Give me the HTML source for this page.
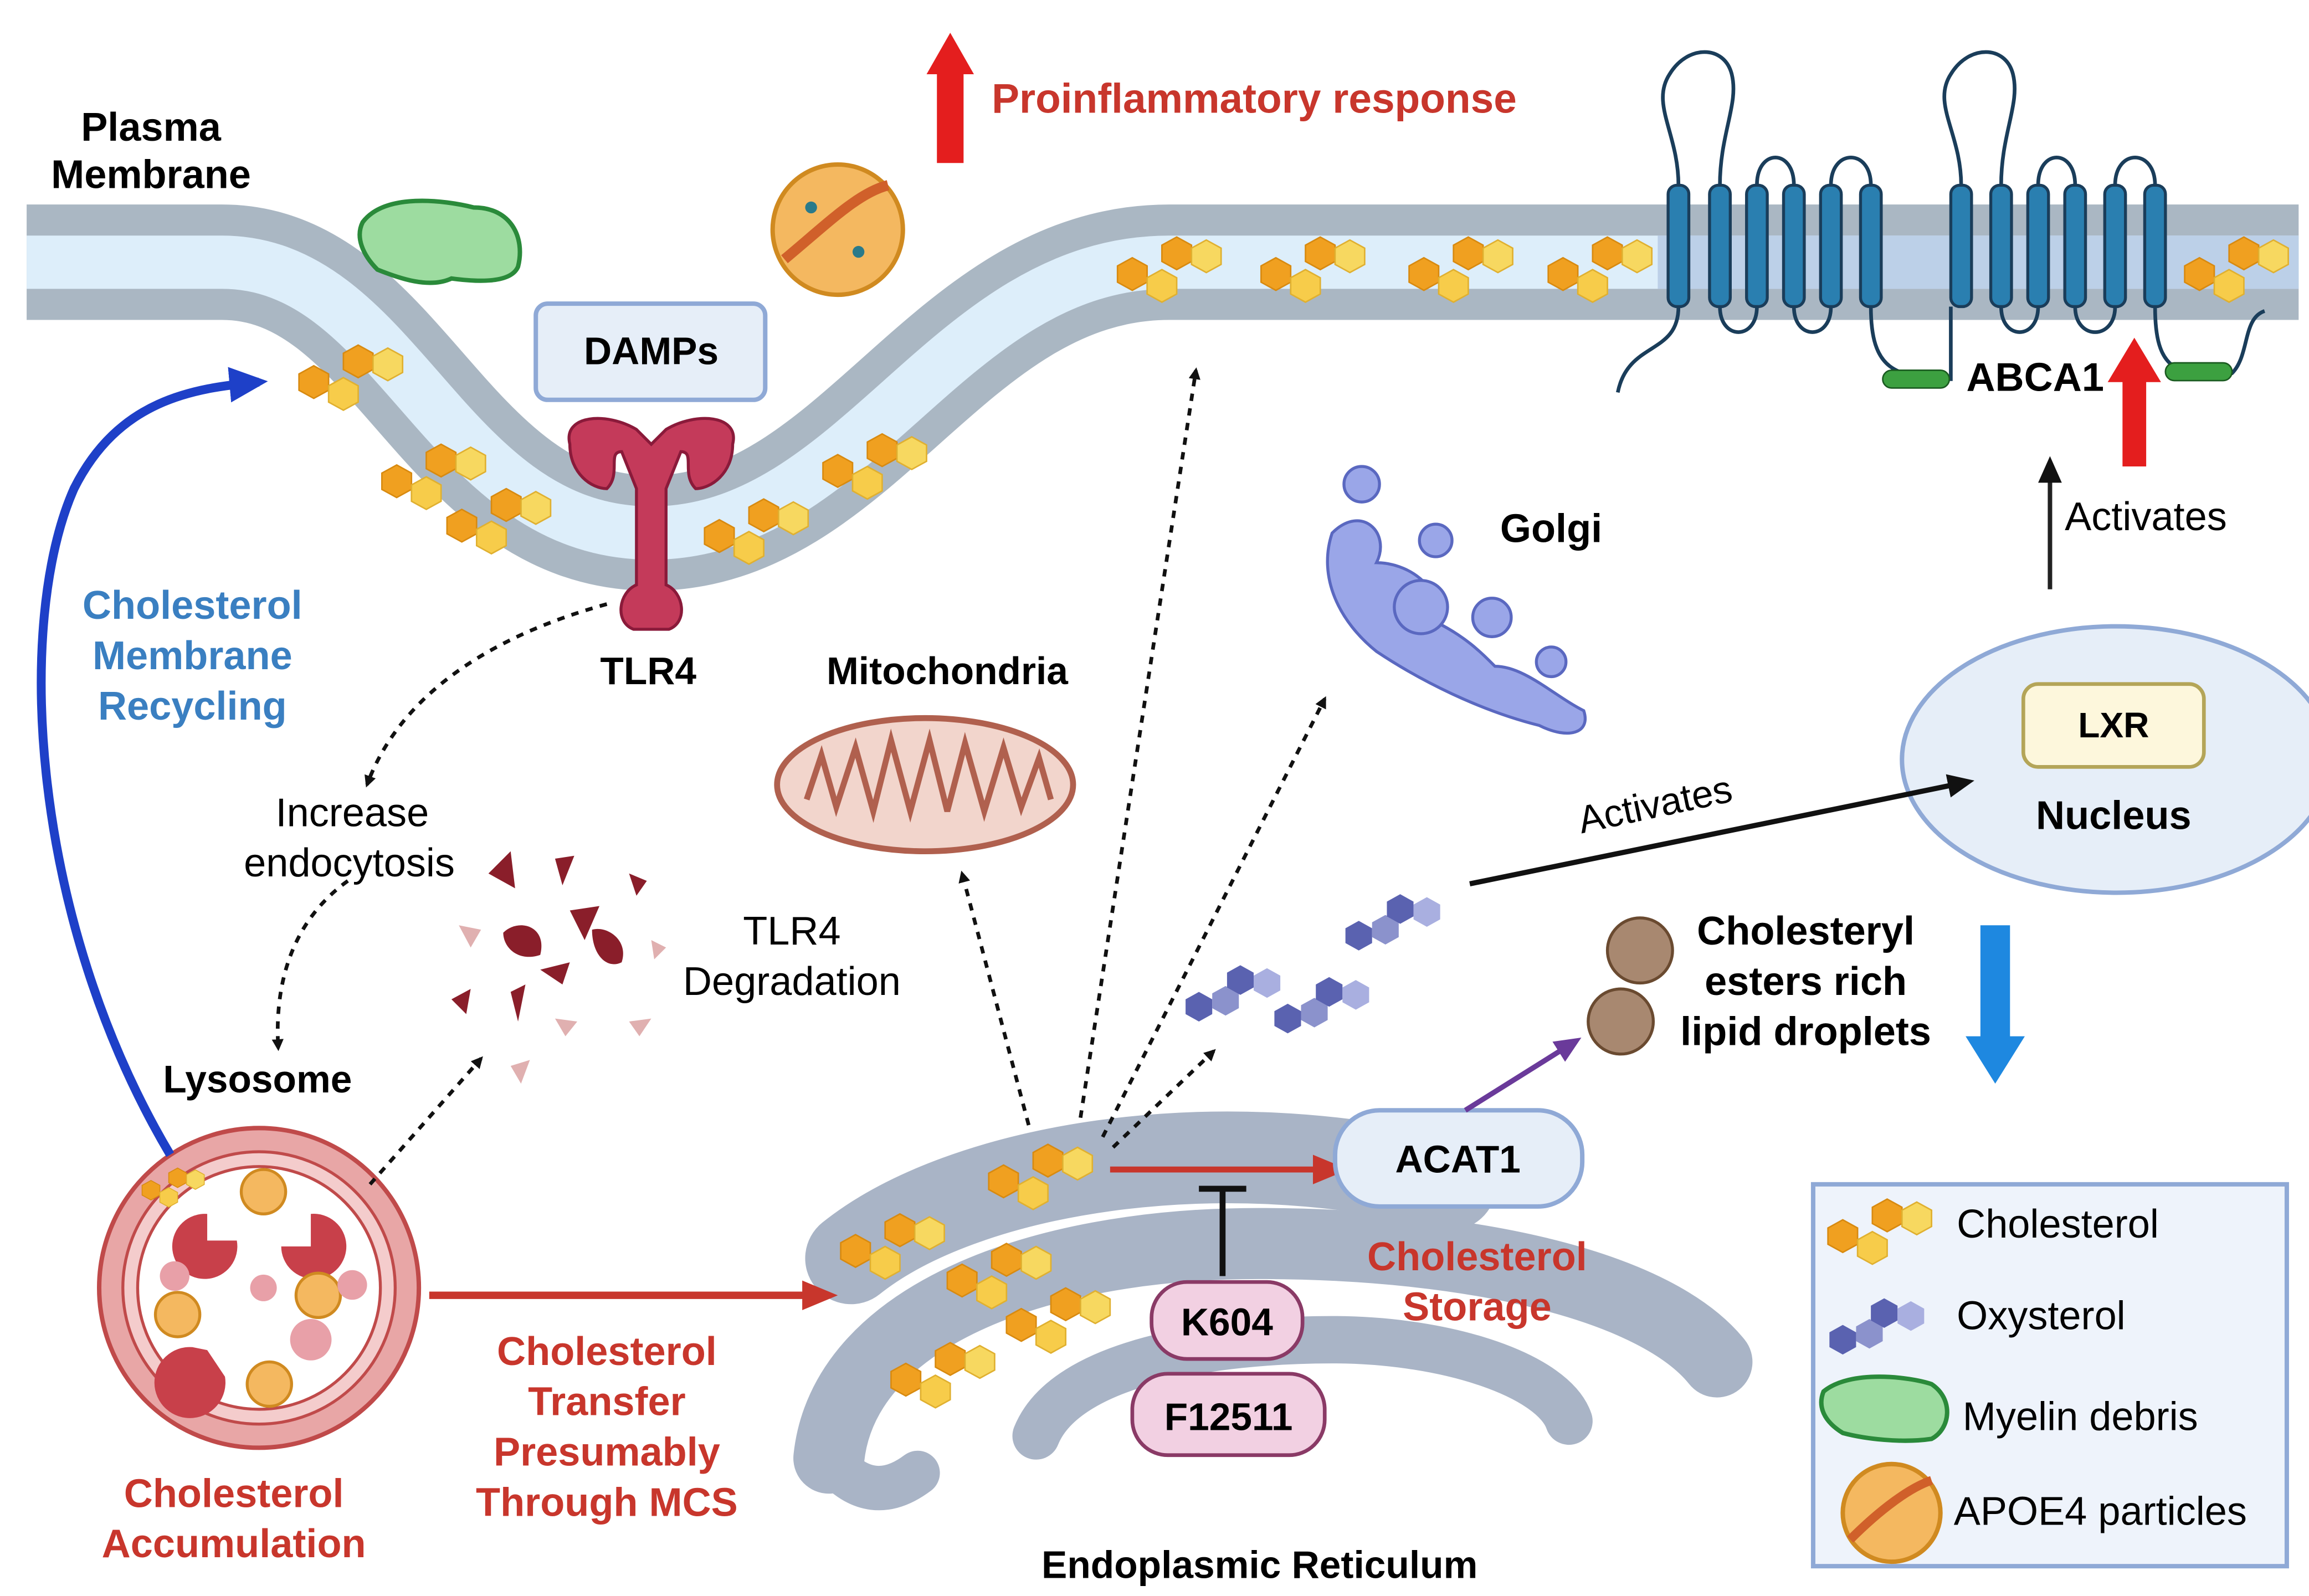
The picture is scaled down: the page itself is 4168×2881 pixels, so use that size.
<!DOCTYPE html>
<html><head><meta charset="utf-8"><style>
html,body{margin:0;padding:0;background:#fff}
svg{display:block}
text{font-family:"Liberation Sans",Arial,sans-serif}
.b{font-weight:bold}
</style></head><body>
<svg width="4168" height="2881" viewBox="0 0 1560 1078" xmlns="http://www.w3.org/2000/svg">
<defs>
<g id="ch">
<polygon points="0,-11 10,-5.5 10,5.5 0,11 -10,5.5 -10,-5.5" fill="#f0a020" stroke="#d88a10" stroke-width="1"/>
<polygon points="20,-11 30,-5.5 30,5.5 20,11 10,5.5 10,-5.5" fill="#f7cc4a" stroke="#e0b030" stroke-width="1" transform="translate(0,8)"/>
<polygon points="20,-11 30,-5.5 30,5.5 20,11 10,5.5 10,-5.5" fill="#f0a020" stroke="#d88a10" stroke-width="1" transform="translate(10,-14)"/>
<polygon points="20,-11 30,-5.5 30,5.5 20,11 10,5.5 10,-5.5" fill="#f7d860" stroke="#e0b030" stroke-width="1" transform="translate(30,-12)"/>
</g>
<g id="ox">
<polygon points="0,-10 9,-5 9,5 0,10 -9,5 -9,-5" fill="#5a62b0"/>
<polygon points="0,-10 9,-5 9,5 0,10 -9,5 -9,-5" fill="#8b92cc" transform="translate(18,-4)"/>
<polygon points="0,-10 9,-5 9,5 0,10 -9,5 -9,-5" fill="#5a62b0" transform="translate(28,-18)"/>
<polygon points="0,-10 9,-5 9,5 0,10 -9,5 -9,-5" fill="#a9afe0" transform="translate(46,-16)"/>
</g>
<marker id="ak" markerWidth="8" markerHeight="8" refX="6" refY="4" orient="auto" markerUnits="userSpaceOnUse" viewBox="0 0 8 8"><path d="M0,0 L8,4 L0,8z" fill="#111"/></marker>
<marker id="akb" markerWidth="20" markerHeight="20" refX="14" refY="10" orient="auto" markerUnits="userSpaceOnUse"><path d="M0,2 L18,10 L0,18z" fill="#111"/></marker>
<marker id="ar" markerWidth="24" markerHeight="24" refX="18" refY="12" orient="auto" markerUnits="userSpaceOnUse"><path d="M0,2 L24,12 L0,22z" fill="#c8362c"/></marker>
<marker id="ab" markerWidth="28" markerHeight="28" refX="20" refY="14" orient="auto" markerUnits="userSpaceOnUse"><path d="M0,2 L26,14 L0,26z" fill="#1e40c8"/></marker>
<marker id="ap" markerWidth="20" markerHeight="20" refX="14" refY="10" orient="auto" markerUnits="userSpaceOnUse"><path d="M0,2 L18,10 L0,18z" fill="#6a3a9a"/></marker>
</defs>
<rect width="1560" height="1078" fill="#fff"/>

<path d="M18,177 L150,177 C270,177 300,360 440,360 C580,360 640,177 790,177 L1553,177" fill="none" stroke="#aab7c3" stroke-width="78"/>
<path d="M18,177 L150,177 C270,177 300,360 440,360 C580,360 640,177 790,177 L1553,177" fill="none" stroke="#ddeefa" stroke-width="36"/>
<rect x="1120" y="159" width="433" height="36" fill="#bcd0e8"/>
<use href="#ch" x="212" y="258"/><use href="#ch" x="268" y="325"/><use href="#ch" x="312" y="355"/>
<use href="#ch" x="486" y="362"/><use href="#ch" x="566" y="318"/><use href="#ch" x="765" y="185"/>
<use href="#ch" x="862" y="185"/><use href="#ch" x="962" y="185"/><use href="#ch" x="1056" y="185"/><use href="#ch" x="1486" y="185"/>

<g fill="#2a7fb0" stroke="#1a3d5a" stroke-width="2">
<rect x="1127" y="125" width="14" height="82" rx="6"/><rect x="1155" y="125" width="14" height="82" rx="6"/>
<rect x="1180" y="125" width="14" height="82" rx="6"/><rect x="1205" y="125" width="14" height="82" rx="6"/>
<rect x="1230" y="125" width="14" height="82" rx="6"/><rect x="1257" y="125" width="14" height="82" rx="6"/>
<rect x="1318" y="125" width="14" height="82" rx="6"/><rect x="1345" y="125" width="14" height="82" rx="6"/>
<rect x="1370" y="125" width="14" height="82" rx="6"/><rect x="1395" y="125" width="14" height="82" rx="6"/>
<rect x="1422" y="125" width="14" height="82" rx="6"/><rect x="1449" y="125" width="14" height="82" rx="6"/>
</g>
<g fill="none" stroke="#1a3d5a" stroke-width="2.5">
<path d="M1134,125 C1134,90 1115,70 1128,50 C1140,30 1165,30 1170,50 C1175,70 1162,90 1162,125"/>
<path d="M1187,125 C1187,100 1212,100 1212,125 M1237,125 C1237,100 1264,100 1264,125"/>
<path d="M1325,125 C1325,90 1305,70 1318,50 C1330,30 1355,30 1360,50 C1365,70 1352,90 1352,125"/>
<path d="M1377,125 C1377,100 1402,100 1402,125 M1429,125 C1429,100 1456,100 1456,125"/>
<path d="M1134,207 C1134,240 1100,230 1093,265 M1162,207 C1162,230 1187,230 1187,207 M1212,207 C1212,230 1237,230 1237,207 M1264,207 C1264,250 1280,255 1318,256 L1318,207"/>
<path d="M1352,207 C1352,230 1377,230 1377,207 M1402,207 C1402,230 1429,230 1429,207 M1456,207 C1456,250 1470,255 1508,252 C1520,240 1515,215 1530,210"/>
</g>
<rect x="1272" y="250" width="45" height="12" rx="6" fill="#3ca040" stroke="#1a5a20"/>
<rect x="1463" y="245" width="45" height="12" rx="6" fill="#3ca040" stroke="#1a5a20"/>
<text x="1375" y="264" class="b" font-size="27" text-anchor="middle">ABCA1</text>
<path d="M1434,315 L1434,258 L1424,258 L1442,228 L1460,258 L1450,258 L1450,315z" fill="#e41e1e"/>
<line x1="1385" y1="398" x2="1385" y2="312" stroke="#222" stroke-width="3" marker-end="url(#akb)"/>
<text x="1395" y="358" font-size="27">Activates</text>

<path d="M633,110 L633,50 L626,50 L642,22 L658,50 L651,50 L651,110z" fill="#e41e1e"/>
<text x="670" y="76" class="b" font-size="28" fill="#c8362c">Proinflammatory response</text>
<text x="102" y="95" class="b" font-size="27" text-anchor="middle">Plasma</text>
<text x="102" y="127" class="b" font-size="27" text-anchor="middle">Membrane</text>

<path d="M245,150 C260,130 300,135 320,140 C345,140 355,160 350,180 C345,192 320,190 305,188 C290,195 270,188 255,182 C245,172 240,160 245,150z" fill="#9ddca0" stroke="#2a8a3a" stroke-width="3"/>
<circle cx="566" cy="155" r="44" fill="#f4b860" stroke="#d08a20" stroke-width="3"/>
<path d="M530,175 C560,150 580,130 600,125" stroke="#d0602a" stroke-width="7" fill="none"/>
<circle cx="548" cy="140" r="4" fill="#2a7a8a"/><circle cx="580" cy="170" r="4" fill="#2a7a8a"/>

<rect x="362" y="205" width="155" height="65" rx="8" fill="#e6eef8" stroke="#8fa9d6" stroke-width="3"/>
<text x="440" y="246" class="b" font-size="26" text-anchor="middle">DAMPs</text>
<path d="M385,300 C380,280 410,278 430,290 L440,300 L450,290 C470,278 500,280 495,300 C495,320 480,330 470,330 C460,320 470,305 460,305 L450,330 L450,395 C462,400 465,420 452,425 L428,425 C415,420 418,400 430,395 L430,330 L420,305 C410,305 420,320 410,330 C400,330 385,320 385,300z" fill="#c43a5a" stroke="#8a1a3a" stroke-width="2"/>
<text x="438" y="462" class="b" font-size="26" text-anchor="middle">TLR4</text>

<text x="640" y="462" class="b" font-size="26" text-anchor="middle">Mitochondria</text>
<ellipse cx="625" cy="530" rx="100" ry="45" fill="#f2d5cc" stroke="#b0604e" stroke-width="4"/>
<path d="M545,540 L555,510 L565,545 L578,505 L590,548 L602,500 L615,548 L628,500 L640,548 L652,502 L665,548 L678,505 L690,545 L702,512 L710,540" fill="none" stroke="#b0604e" stroke-width="4"/>

<text x="1048" y="366" class="b" font-size="27" text-anchor="middle">Golgi</text>
<g fill="#9aa6e8" stroke="#5a68c0" stroke-width="2">
<circle cx="920" cy="327" r="12"/><circle cx="970" cy="365" r="11"/>
<path d="M900,360 C920,340 940,360 930,380 C950,380 975,395 970,420 C990,430 1000,440 1010,450 C1030,450 1050,470 1070,480 C1075,495 1060,500 1040,490 C1000,480 960,460 930,440 C905,420 890,390 900,360z"/>
<circle cx="1008" cy="417" r="13"/><circle cx="1048" cy="447" r="10"/><circle cx="960" cy="410" r="18"/>
</g>

<ellipse cx="1430" cy="513" rx="145" ry="90" fill="#e6eef8" stroke="#8fa9d6" stroke-width="3"/>
<rect x="1367" y="462" width="122" height="56" rx="10" fill="#fdf7dc" stroke="#b4a558" stroke-width="2.5"/>
<text x="1428" y="498" class="b" font-size="24" text-anchor="middle">LXR</text>
<text x="1428" y="560" class="b" font-size="27" text-anchor="middle">Nucleus</text>
<line x1="993" y1="597" x2="1330" y2="528" stroke="#111" stroke-width="3.5" marker-end="url(#akb)"/>
<text x="1120" y="552" font-size="26" text-anchor="middle" transform="rotate(-12 1120 552)">Activates</text>
<path d="M1338,625 L1358,625 L1358,700 L1368,700 L1348,732 L1328,700 L1338,700z" fill="#1e88e0"/>

<circle cx="1108" cy="642" r="22" fill="#a88870" stroke="#6a4a30" stroke-width="2"/>
<circle cx="1095" cy="690" r="22" fill="#a88870" stroke="#6a4a30" stroke-width="2"/>
<text x="1220" y="638" class="b" font-size="27" text-anchor="middle">Cholesteryl</text>
<text x="1220" y="672" class="b" font-size="27" text-anchor="middle">esters rich</text>
<text x="1220" y="706" class="b" font-size="27" text-anchor="middle">lipid droplets</text>

<use href="#ox" x="810" y="680"/><use href="#ox" x="870" y="688"/><use href="#ox" x="918" y="632"/>

<g fill="none" stroke="#a9b4c6" stroke-linecap="round">
<path d="M575,850 C650,790 820,760 980,800" stroke-width="62"/>
<path d="M560,985 C570,890 700,840 850,840 C1000,840 1120,870 1160,920" stroke-width="48"/>
<path d="M700,970 C720,920 820,905 900,905 C980,905 1050,930 1060,960" stroke-width="32"/>
<path d="M560,985 C580,1010 600,1010 620,995" stroke-width="30"/>
</g>
<use href="#ch" x="578" y="845"/><use href="#ch" x="650" y="865"/><use href="#ch" x="612" y="932"/><use href="#ch" x="690" y="895"/><use href="#ch" x="678" y="798"/>
<text x="851" y="1066" class="b" font-size="26" text-anchor="middle">Endoplasmic Reticulum</text>

<line x1="750" y1="790" x2="905" y2="790" stroke="#c8362c" stroke-width="4" marker-end="url(#ar)"/>
<rect x="902" y="750" width="167" height="65" rx="30" fill="#e6eef8" stroke="#8fa9d6" stroke-width="3"/>
<text x="985" y="792" class="b" font-size="26" text-anchor="middle">ACAT1</text>
<line x1="990" y1="750" x2="1065" y2="703" stroke="#6a3a9a" stroke-width="3.5" marker-end="url(#ap)"/>
<line x1="826" y1="862" x2="826" y2="803" stroke="#111" stroke-width="4"/>
<line x1="810" y1="803" x2="842" y2="803" stroke="#111" stroke-width="4"/>
<rect x="778" y="866" width="102" height="52" rx="24" fill="#f2d0e2" stroke="#8a3a66" stroke-width="2.5"/>
<text x="829" y="902" class="b" font-size="26" text-anchor="middle">K604</text>
<rect x="765" y="928" width="130" height="55" rx="24" fill="#f2d0e2" stroke="#8a3a66" stroke-width="2.5"/>
<text x="830" y="966" class="b" font-size="26" text-anchor="middle">F12511</text>
<text x="998" y="858" class="b" font-size="27" text-anchor="middle" fill="#c8362c">Cholesterol</text>
<text x="998" y="892" class="b" font-size="27" text-anchor="middle" fill="#c8362c">Storage</text>

<circle cx="175" cy="870" r="108" fill="#e8a6a6" stroke="#c04a4a" stroke-width="3"/>
<circle cx="175" cy="870" r="92" fill="#f4cccc" stroke="#c04a4a" stroke-width="2"/>
<circle cx="175" cy="870" r="82" fill="#fff" stroke="#c04a4a" stroke-width="2"/>
<g fill="#c8404a">
<path d="M140,820 A22,22 0 1 0 160,838 L140,838z"/><path d="M210,820 A22,22 0 1 1 190,842 L210,842z"/>
<path d="M130,910 A24,24 0 1 0 152,930 L140,912z"/>
</g>
<g fill="#f4b860" stroke="#d08a20" stroke-width="2"><circle cx="178" cy="805" r="15"/><circle cx="215" cy="875" r="15"/><circle cx="120" cy="888" r="15"/><circle cx="182" cy="935" r="15"/></g>
<g fill="#e8a0a8"><circle cx="118" cy="862" r="10"/><circle cx="178" cy="870" r="9"/><circle cx="238" cy="868" r="10"/><circle cx="210" cy="905" r="14"/></g>
<use href="#ch" x="100" y="800" transform="scale(0.6) translate(70,540)"/>
<text x="174" y="738" class="b" font-size="26" text-anchor="middle">Lysosome</text>
<text x="158" y="1018" class="b" font-size="27" text-anchor="middle" fill="#c8362c">Cholesterol</text>
<text x="158" y="1052" class="b" font-size="27" text-anchor="middle" fill="#c8362c">Accumulation</text>

<path d="M115,780 C20,620 10,420 50,330 C80,270 130,262 175,258" fill="none" stroke="#1e40c8" stroke-width="6" marker-end="url(#ab)"/>
<text x="130" y="418" class="b" font-size="27" text-anchor="middle" fill="#3a7fc1">Cholesterol</text>
<text x="130" y="452" class="b" font-size="27" text-anchor="middle" fill="#3a7fc1">Membrane</text>
<text x="130" y="486" class="b" font-size="27" text-anchor="middle" fill="#3a7fc1">Recycling</text>

<line x1="290" y1="875" x2="560" y2="875" stroke="#c8362c" stroke-width="5" marker-end="url(#ar)"/>
<g class="b" font-size="27" text-anchor="middle" fill="#c8362c">
<text x="410" y="922">Cholesterol</text><text x="410" y="956">Transfer</text><text x="410" y="990">Presumably</text><text x="410" y="1024">Through MCS</text></g>

<g fill="none" stroke="#111" stroke-width="2.5" stroke-dasharray="5,5" marker-end="url(#ak)">
<path d="M410,408 C330,430 270,470 248,530"/>
<path d="M235,595 C200,620 185,660 188,708"/>
<path d="M250,800 L325,715"/>
<path d="M695,760 L650,590"/>
<path d="M730,755 L808,250"/>
<path d="M745,768 L895,472"/>
<path d="M752,775 L820,710"/>
</g>
<text x="238" y="558" font-size="27" text-anchor="middle">Increase</text>
<text x="236" y="592" font-size="27" text-anchor="middle">endocytosis</text>
<text x="535" y="638" font-size="27" text-anchor="middle">TLR4</text>
<text x="535" y="672" font-size="27" text-anchor="middle">Degradation</text>

<g fill="#8a1e2a">
<path d="M330,590 L345,575 L348,600z"/><path d="M375,580 L388,578 L380,598z"/><path d="M340,630 C350,620 370,625 365,645 C350,650 340,640 340,630z"/>
<path d="M385,615 L405,612 L395,635z"/><path d="M400,628 C410,625 425,635 420,650 C410,655 400,645 400,628z"/><path d="M365,655 L385,650 L380,665z"/>
<path d="M305,675 L318,668 L315,685z"/><path d="M345,670 L355,665 L350,690z"/><path d="M425,590 L437,595 L430,605z"/>
</g>
<g fill="#e0b0b0"><path d="M310,625 L325,628 L318,640z"/><path d="M425,690 L440,688 L432,700z"/><path d="M345,720 L358,716 L352,732z"/><path d="M375,688 L390,690 L382,700z"/><path d="M440,635 L450,640 L442,648z"/></g>

<rect x="1225" y="800" width="320" height="258" fill="#eef3fb" stroke="#8fa9d6" stroke-width="3"/>
<use href="#ch" x="1245" y="835"/>
<use href="#ox" x="1245" y="905"/>
<path d="M1232,940 C1250,925 1290,930 1305,935 C1320,945 1318,965 1305,972 C1285,975 1260,972 1245,968 C1232,960 1228,950 1232,940z" fill="#9ddca0" stroke="#2a8a3a" stroke-width="3"/>
<circle cx="1278" cy="1022" r="33" fill="#f4b860" stroke="#d08a20" stroke-width="3"/>
<path d="M1250,1040 C1270,1020 1290,1005 1305,1000" stroke="#d0602a" stroke-width="6" fill="none"/>
<g font-size="27"><text x="1322" y="836">Cholesterol</text><text x="1322" y="898">Oxysterol</text><text x="1326" y="966">Myelin debris</text><text x="1320" y="1030">APOE4 particles</text></g>
</svg>
</body></html>
